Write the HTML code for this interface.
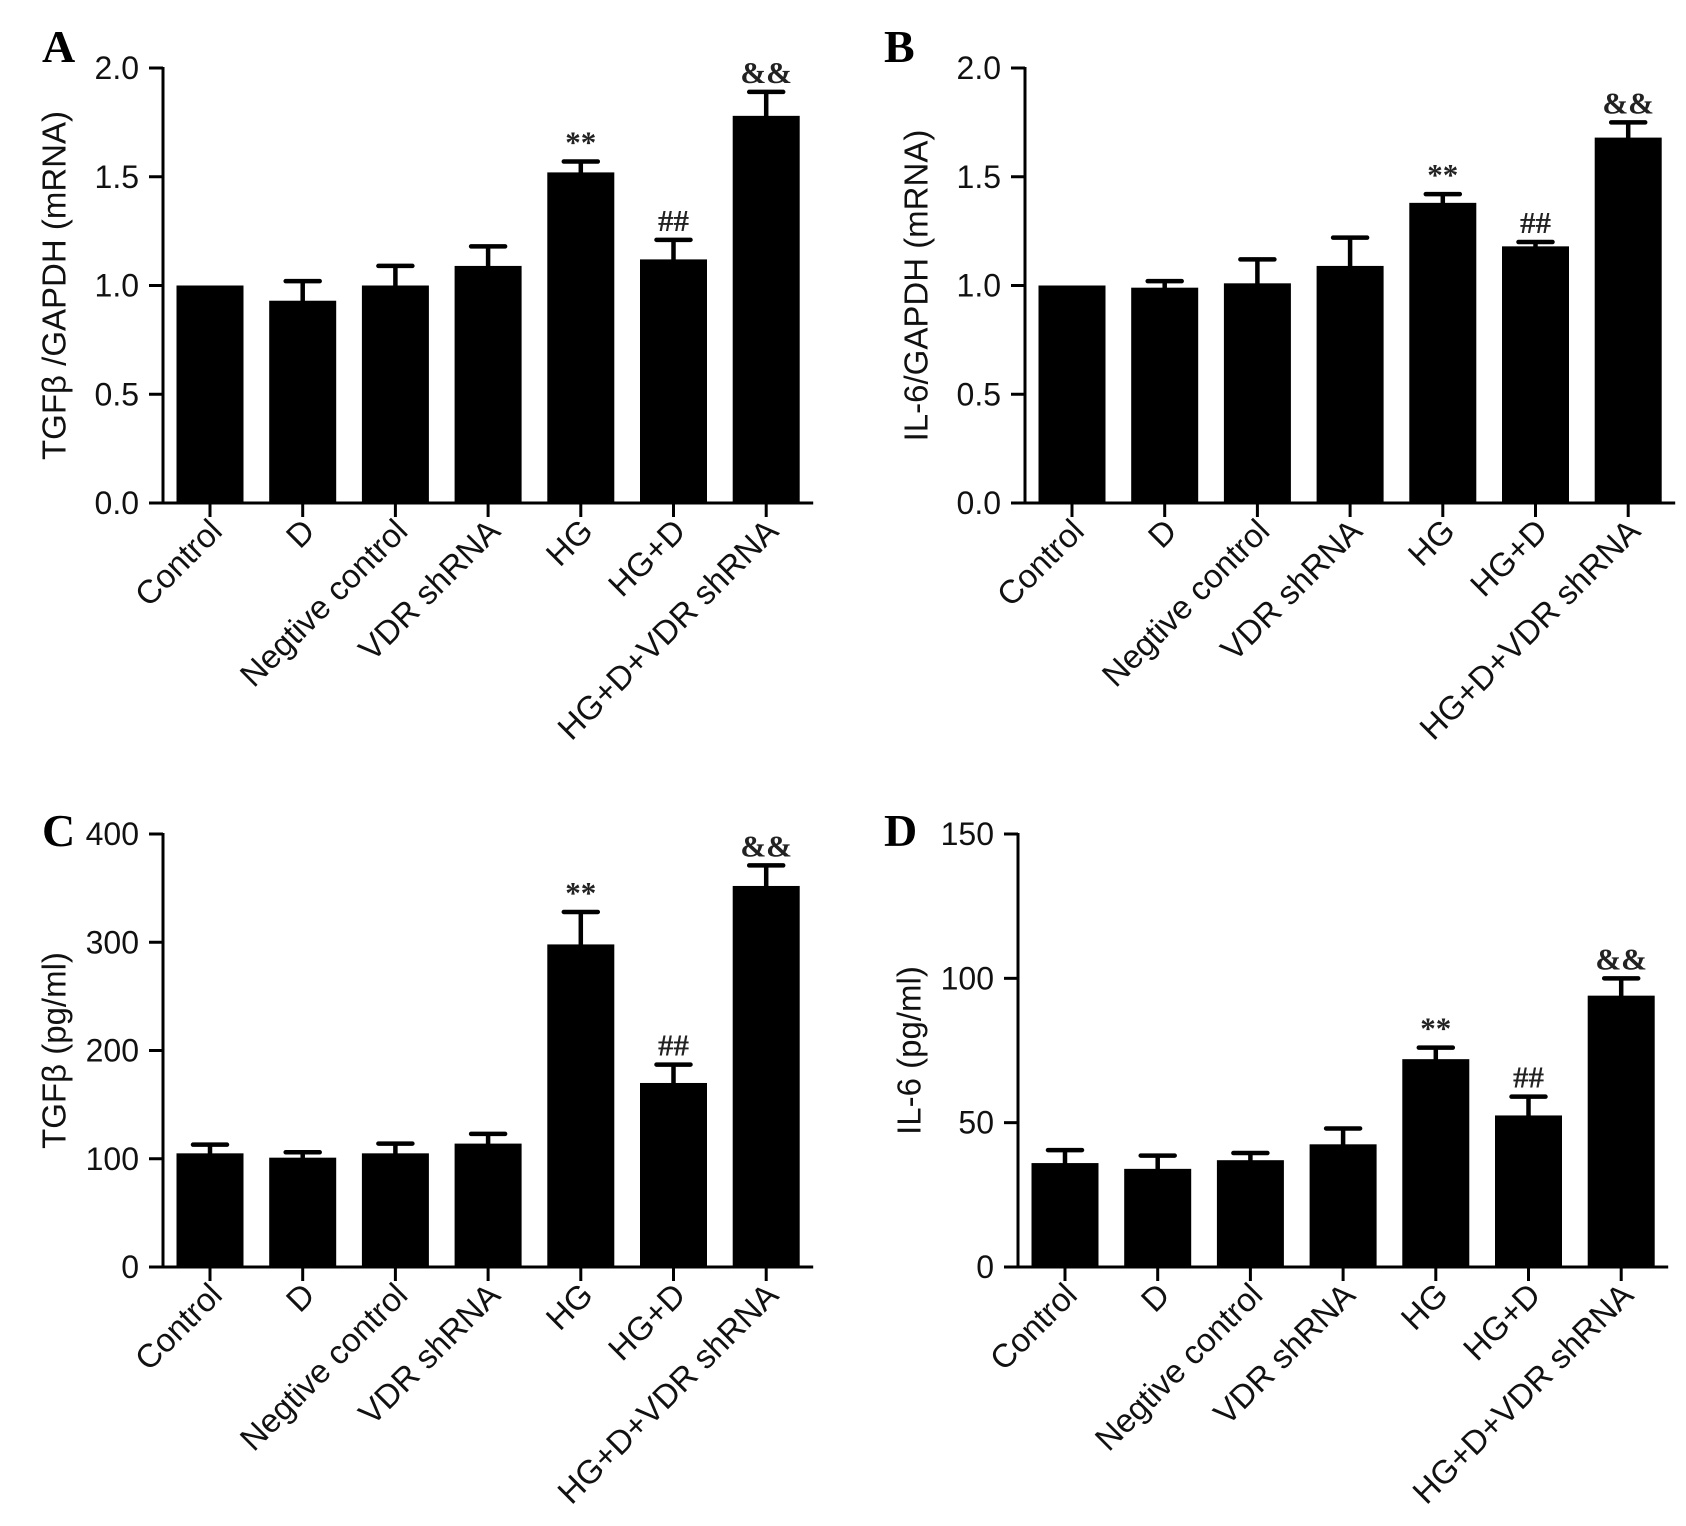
<!DOCTYPE html>
<html><head><meta charset="utf-8"><style>
html,body{margin:0;padding:0;background:#fff;}
svg{display:block;}
</style></head><body>
<svg id="fig" width="1686" height="1526" viewBox="0 0 1686 1526" xmlns="http://www.w3.org/2000/svg"></svg>
<script>
const categories = ["Control","D","Negtive control","VDR shRNA","HG","HG+D","HG+D+VDR shRNA"];
const marks = ["","","","","**","##","&&"];
const valuesA = [1.00,0.93,1.00,1.09,1.52,1.12,1.78];
const errA    = [1.00,1.02,1.09,1.18,1.57,1.21,1.89];
const valuesB = [1.00,0.99,1.01,1.09,1.38,1.18,1.68];
const errB    = [1.00,1.02,1.12,1.22,1.42,1.20,1.75];
const valuesC = [105,101,105,114,298,170,352];
const errC    = [113,106,114,123,328,187,371];
const valuesD = [36,34,37,42.5,72,52.5,94];
const errD    = [40.5,38.6,39.5,48,76,59,100];
const ticksA = [0,0.5,1.0,1.5,2.0];
const tickLabelsA = ["0.0","0.5","1.0","1.5","2.0"];
const ticksC = [0,100,200,300,400];
const ticksD = [0,50,100,150];

const NS="http://www.w3.org/2000/svg";
const svg=document.getElementById('fig');
function mk(tag,attrs,parent){const e=document.createElementNS(NS,tag);for(const k in attrs)e.setAttribute(k,attrs[k]);(parent||svg).appendChild(e);return e;}

function panel(cfg){
  const g=mk('g',{});
  
  
  const ax=cfg.ax, top=cfg.top, bot=cfg.bot, max=cfg.max;
  const step=92.7, bw=67, first=ax+47;
  const yS=v=>bot-(v/max)*(bot-top);
  const xS=i=>first+i*step;
  const end=xS(categories.length-1)+47;
  const L=mk('text',{x:cfg.lx,y:cfg.ly,'font-family':'"Liberation Serif",serif','font-weight':'bold','font-size':46},g);
  L.textContent=cfg.letter;
  
  
  const ya=mk('line',{x1:ax,y1:top-1,x2:ax,y2:bot+1.5,stroke:'#000','stroke-width':3},g);
  
  
  const xa=mk('line',{x1:ax-14,y1:bot,x2:end,y2:bot,stroke:'#000','stroke-width':3},g);
  
  
  cfg.ticks.forEach((t,i)=>{
    const y=yS(t);
    mk('line',{x1:ax-14,y1:y,x2:ax,y2:y,stroke:'#000','stroke-width':3},g);
    const tl=mk('text',{x:ax-24,y:y+11,'text-anchor':'end','font-family':'"Liberation Sans",sans-serif','font-size':32,fill:'#111'},g);
    tl.textContent=cfg.tickLabels[i];
    
    
  });
  const ty=(top+bot)/2, tx=ax-106;
  const yt=mk('text',{x:tx,y:ty,'text-anchor':'middle','dominant-baseline':'middle',transform:`rotate(-90 ${tx} ${ty})`,'font-family':'"Liberation Sans","DejaVu Sans",sans-serif','font-size':33,fill:'#111'},g);
  yt.textContent=cfg.title;
  
  
  categories.forEach((c,i)=>{
    const cx=xS(i);
    const v=cfg.values[i], e=cfg.err[i];
    const b=mk('rect',{x:cx-bw/2,y:yS(v),width:bw,height:bot-yS(v),fill:'#000'},g);
    
    
    if(e>v+0.0001){
      const eb=mk('path',{d:`M${cx} ${yS(v)} V${yS(e)} M${cx-17} ${yS(e)} H${cx+17}`,stroke:'#000','stroke-width':4.5,fill:'none','stroke-linecap':'round'},g);
      
      
    }
    if(marks[i]){
      const m=mk('text',{x:cx,y:yS(e)-9,'text-anchor':'middle','font-family':'"Liberation Serif",serif','font-weight':'bold','font-size':31,fill:'#222'},g);
      m.textContent=marks[i];
      
      
    }
    mk('line',{x1:cx,y1:bot,x2:cx,y2:bot+14,stroke:'#000','stroke-width':3},g);
    const px=cx+14, py=bot+30;
    const cl=mk('text',{x:px,y:py,'text-anchor':'end',transform:`rotate(-45 ${px} ${py})`,'font-family':'"Liberation Sans",sans-serif','font-size':33,fill:'#111'},g);
    cl.textContent=c;
    
    
  });
}
panel({letter:'A',lx:42,ly:62,ax:163,top:68,bot:503,max:2.0,ticks:ticksA,tickLabels:tickLabelsA,title:'TGFβ /GAPDH (mRNA)',values:valuesA,err:errA});
panel({letter:'B',lx:884,ly:62,ax:1025,top:68,bot:503,max:2.0,ticks:ticksA,tickLabels:tickLabelsA,title:'IL-6/GAPDH (mRNA)',values:valuesB,err:errB});
panel({letter:'C',lx:42,ly:846,ax:163,top:834,bot:1267,max:400,ticks:ticksC,tickLabels:ticksC.map(String),title:'TGFβ (pg/ml)',values:valuesC,err:errC});
panel({letter:'D',lx:884,ly:846,ax:1018,top:834,bot:1267,max:150,ticks:ticksD,tickLabels:ticksD.map(String),title:'IL-6 (pg/ml)',values:valuesD,err:errD});
</script>
</body></html>
